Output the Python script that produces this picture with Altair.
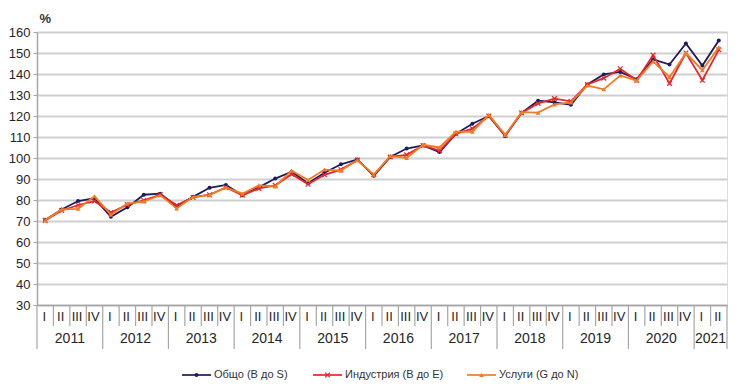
import altair as alt
import pandas as pd

# ---------------- data ----------------
years = ["2011", "2012", "2013", "2014", "2015", "2016", "2017", "2018", "2019", "2020", "2021"]
quarters_per_year = [4, 4, 4, 4, 4, 4, 4, 4, 4, 4, 2]
quarter_names = ["I", "II", "III", "IV"]

series_names = ["Общо (B до S)", "Индустрия (B до E)", "Услуги (G до N)"]

obshto = [70.5, 75.5, 79.5, 80.8,
          72.0, 76.5, 82.5, 83.0,
          77.0, 81.5, 85.8, 87.2,
          82.3, 86.0, 90.2, 93.5,
          88.0, 93.0, 97.0, 99.3,
          91.5, 100.5, 104.5, 106.0,
          102.8, 111.5, 116.3, 120.0,
          110.5, 121.5, 127.3, 126.5,
          125.3, 135.0, 139.8, 141.0,
          137.5, 147.0, 144.5, 154.5,
          144.0, 156.0]

industry = [70.3, 75.0, 77.5, 79.5,
            74.0, 77.8, 79.8, 82.5,
            77.5, 81.2, 82.5, 86.0,
            82.3, 85.5, 87.0, 92.3,
            87.5, 92.0, 94.5, 99.0,
            92.0, 100.5, 101.5, 106.0,
            103.5, 111.5, 114.0, 120.0,
            110.8, 121.5, 126.0, 128.3,
            127.0, 135.0, 138.0, 142.5,
            137.0, 149.0, 135.5, 150.0,
            137.0, 151.5]

services = [70.3, 75.5, 75.8, 81.8,
            73.0, 78.3, 79.3, 82.3,
            76.0, 81.5, 82.3, 86.0,
            83.0, 87.0, 86.5, 94.0,
            89.5, 94.5, 94.0, 99.0,
            92.0, 101.0, 100.0, 106.3,
            105.0, 112.5, 112.5, 120.5,
            111.0, 121.8, 121.6, 125.5,
            126.5, 134.5, 132.7, 139.3,
            136.8, 146.0, 138.5, 150.0,
            141.8, 152.7]

colors = ["#1c1c5c", "#e8262b", "#f27b22"]

# ---------------- derived tables ----------------
quarter_labels = []
year_of_q = []
for y, n in zip(years, quarters_per_year):
    for q in range(n):
        quarter_labels.append(quarter_names[q])
        year_of_q.append(y)
nq = len(quarter_labels)

values = [obshto, industry, services]
series_df = [
    pd.DataFrame({"idx": [i + 0.5 for i in range(nq)], "value": v, "series": name})
    for v, name in zip(values, series_names)
]

q_df = pd.DataFrame({"idx": [i + 0.5 for i in range(nq)], "label": quarter_labels})

year_bounds = [0]
for n in quarters_per_year:
    year_bounds.append(year_bounds[-1] + n)
year_df = pd.DataFrame({
    "idx": [(a + b) / 2 for a, b in zip(year_bounds[:-1], year_bounds[1:])],
    "label": years,
})
ysep_df = pd.DataFrame({"idx": year_bounds})
qsep_df = pd.DataFrame({"idx": [i for i in range(1, nq) if i not in year_bounds]})

W, H = 690, 273
FONT = "Liberation Sans"
GRID = "#cfcfcf"
AXIS = "#a6a6a6"

xscale = alt.Scale(domain=[0, nq], nice=False, zero=False)

base_x = alt.X("idx:Q", scale=xscale,
               axis=alt.Axis(labels=False, ticks=False, grid=False, title=None,
                             domainColor=AXIS, domainWidth=1.5))
y_ticks = list(range(30, 161, 10))
y_enc = alt.Y("value:Q",
              scale=alt.Scale(domain=[30, 160], nice=False, zero=False),
              axis=alt.Axis(values=y_ticks, tickCount=len(y_ticks) + 2, title="%",
                            labelOverlap=False, labelFlush=False,
                            titleAngle=0, titleX=2, titleY=-14, titleAlign="left",
                            titleBaseline="middle", titleFontWeight="bold",
                            titleFontSize=13, titleColor="#333333",
                            labelFontSize=13, labelColor="#262626", labelPadding=3,
                            tickSize=4, tickColor=AXIS, domainColor=AXIS,
                            gridColor=GRID, gridWidth=2, domainWidth=1.5))

layers = []
marker_specs = [
    dict(shape="circle", filled=True, size=16),
    dict(shape="M-1,-1L1,1M-1,1L1,-1", filled=False, size=22, strokeWidth=1.2),
    dict(shape="triangle-up", filled=True, size=22),
]
for k in range(3):
    c = colors[k]
    line = alt.Chart(series_df[k]).mark_line(color=c, strokeWidth=1.8).encode(
        x=base_x, y=y_enc)
    pts = alt.Chart(series_df[k]).mark_point(color=c, opacity=1, **marker_specs[k]).encode(
        x=alt.X("idx:Q", scale=xscale), y=y_enc)
    layers += [line, pts]

qtext = alt.Chart(q_df).mark_text(font=FONT, fontSize=13, color="#262626",
                                  baseline="middle", dx=-1).encode(
    x=alt.X("idx:Q", scale=xscale), y=alt.value(H + 12), text="label:N")
ytext = alt.Chart(year_df).mark_text(font=FONT, fontSize=14, color="#262626",
                                     baseline="middle").encode(
    x=alt.X("idx:Q", scale=xscale), y=alt.value(H + 34), text="label:N")
qsep = alt.Chart(qsep_df).mark_rule(color=AXIS, strokeWidth=1.2).encode(
    x=alt.X("idx:Q", scale=xscale), y=alt.value(H), y2=alt.value(H + 21))
ysep = alt.Chart(ysep_df).mark_rule(color=AXIS, strokeWidth=1.2).encode(
    x=alt.X("idx:Q", scale=xscale), y=alt.value(H), y2=alt.value(H + 44))
layers += [qsep, ysep, qtext, ytext]

# manual legend (line + marker + text)
leg_x = [145, 276, 430]
leg_y = H + 70
for k in range(3):
    one = pd.DataFrame({"n": [series_names[k]]})
    x0 = leg_x[k]
    layers.append(alt.Chart(one).mark_rule(color=colors[k], strokeWidth=1.7).encode(
        x=alt.value(x0), x2=alt.value(x0 + 29), y=alt.value(leg_y)))
    layers.append(alt.Chart(one).mark_point(color=colors[k], opacity=1, **marker_specs[k]).encode(
        x=alt.value(x0 + 14.5), y=alt.value(leg_y)))
    layers.append(alt.Chart(one).mark_text(font=FONT, fontSize=11, color="#333333",
                                           align="left", baseline="middle").encode(
        x=alt.value(x0 + 32), y=alt.value(leg_y), text="n:N"))

chart = alt.layer(*layers).properties(
    width=W, height=H,
    padding={"left": 29, "top": 24, "right": 5, "bottom": 78},
    autosize=alt.AutoSizeParams(type="none"),
).configure_view(stroke=None).configure(font=FONT, background="white")

chart.save("out.html", embed_options={"renderer": "svg", "actions": False})
